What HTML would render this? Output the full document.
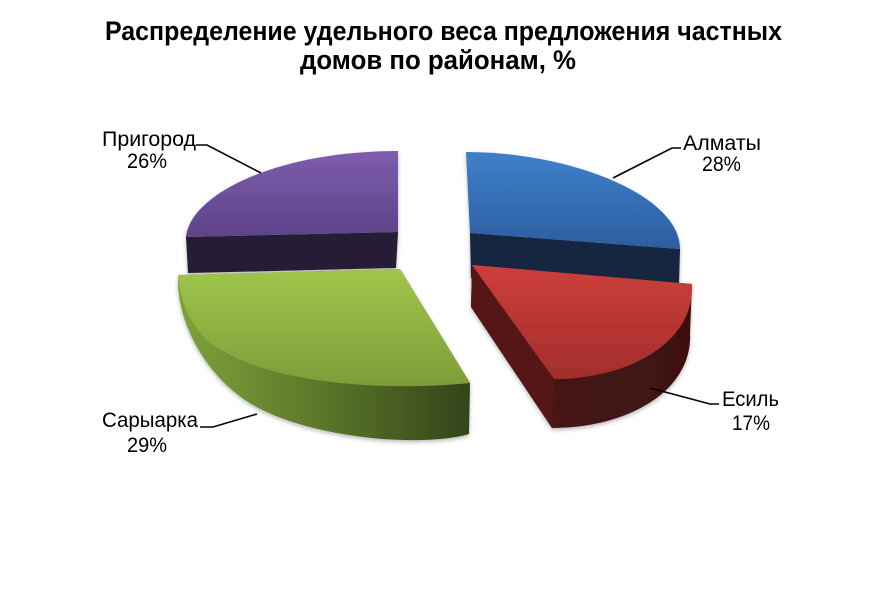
<!DOCTYPE html>
<html><head><meta charset="utf-8"><style>
html,body{margin:0;padding:0;background:#fff;}
svg{display:block;}
text{font-family:"Liberation Sans",Arial,sans-serif;}
</style></head><body>
<svg width="886" height="590" viewBox="0 0 886 590" xmlns="http://www.w3.org/2000/svg">
<defs>
<filter id="sh" x="-10%" y="-10%" width="120%" height="125%">
<feDropShadow dx="0" dy="2" stdDeviation="2" flood-color="#000" flood-opacity="0.28"/>
</filter>
<linearGradient id="pTop" x1="0" y1="0" x2="0" y2="1"><stop offset="0" stop-color="#7e5dac"/><stop offset="1" stop-color="#5d4389"/></linearGradient>
<linearGradient id="bTop" x1="0" y1="0" x2="0" y2="1"><stop offset="0" stop-color="#3f80cb"/><stop offset="1" stop-color="#2c5e9f"/></linearGradient>
<linearGradient id="rTop" x1="0" y1="0" x2="0" y2="1"><stop offset="0" stop-color="#cd3f3c"/><stop offset="1" stop-color="#a22e2c"/></linearGradient>
<linearGradient id="gTop" x1="0" y1="0" x2="0" y2="1"><stop offset="0" stop-color="#9fc64a"/><stop offset="1" stop-color="#7d9c39"/></linearGradient>
<linearGradient id="gSide" x1="0" y1="0" x2="1" y2="0"><stop offset="0" stop-color="#7fa23a"/><stop offset="0.5" stop-color="#5b7629"/><stop offset="1" stop-color="#33431a"/></linearGradient>
<linearGradient id="rSide" x1="0" y1="0" x2="1" y2="0"><stop offset="0" stop-color="#4c1616"/><stop offset="1" stop-color="#3c1111"/></linearGradient>
</defs>

<!-- Title -->
<text x="443.5" y="40" text-anchor="middle" font-size="26.5" font-weight="bold" fill="#000" textLength="677" lengthAdjust="spacingAndGlyphs">Распределение удельного веса предложения частных</text>
<text x="438" y="69" text-anchor="middle" font-size="26.5" font-weight="bold" fill="#000" textLength="276" lengthAdjust="spacingAndGlyphs">домов по районам, %</text>

<!-- Purple (Пригород) -->
<g filter="url(#sh)">
<path d="M186,237 L398,232 L396,268 L188,273 Z" fill="#251a34"/>
<path d="M398,151 L398,232 L186,237 C190,195 275,151 398,151 Z" fill="url(#pTop)"/>
</g>

<!-- Blue (Алматы) -->
<g filter="url(#sh)">
<path d="M470,233 L680,249 L679,285 L471,278 Z" fill="#14263f"/>
<path d="M466,152 C570,152 680,195 680,249 L470,233 Z" fill="url(#bTop)"/>
</g>

<!-- Green (Сарыарка) -->
<g filter="url(#sh)">
<path d="M178,275 L400,269 L470,383 L469,434 C420,448 310,438 253,405 C210,380 180,330 178,285 Z" fill="url(#gSide)"/>
<path d="M178,275 L400,269 L470,383 C380,392 275,382 225,352 C195,338 180,305 178,275 Z" fill="url(#gTop)"/>
</g>

<!-- Red (Есиль) -->
<g filter="url(#sh)">
<path d="M472,265 L692,284 L690,333 C693,392 626,428 552,428 L471,307 Z" fill="url(#rSide)"/>
<path d="M472,265 L554,379 L552,428 L471,307 Z" fill="#561918"/>
<path d="M472,265 L692,284 C695,343 628,379 554,379 Z" fill="url(#rTop)"/>
</g>

<!-- Leader lines -->
<g stroke="#000" stroke-width="1.6" fill="none">
<path d="M196,145 L207,145 L261,173"/>
<path d="M613,178 L672,148 L681,148"/>
<path d="M650,388 L710,404 L719,404"/>
<path d="M200,427 L213,427 L257,414"/>
</g>

<!-- Labels -->
<g font-size="21" fill="#000">
<text x="102" y="146" textLength="94" lengthAdjust="spacingAndGlyphs">Пригород</text>
<text x="127" y="168" textLength="40" lengthAdjust="spacingAndGlyphs">26%</text>
<text x="683" y="150" textLength="78" lengthAdjust="spacingAndGlyphs">Алматы</text>
<text x="702" y="171" textLength="39" lengthAdjust="spacingAndGlyphs">28%</text>
<text x="722" y="406" textLength="57" lengthAdjust="spacingAndGlyphs">Есиль</text>
<text x="732" y="430" textLength="38" lengthAdjust="spacingAndGlyphs">17%</text>
<text x="102" y="427" textLength="96" lengthAdjust="spacingAndGlyphs">Сарыарка</text>
<text x="127" y="452" textLength="40" lengthAdjust="spacingAndGlyphs">29%</text>
</g>
</svg>
</body></html>
